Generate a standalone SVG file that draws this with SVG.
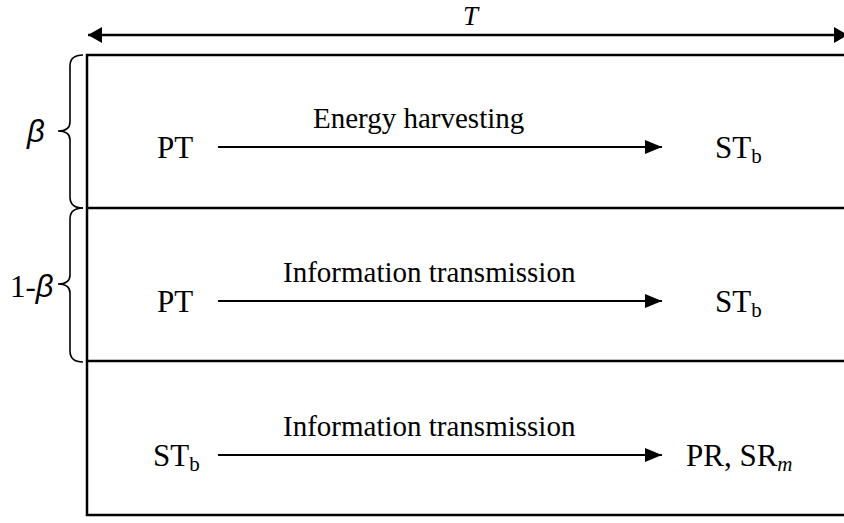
<svg xmlns="http://www.w3.org/2000/svg" width="844" height="523" viewBox="0 0 844 523">
<defs>
<style>
.t{font-family:"Liberation Serif","Times New Roman",serif;font-size:31px;fill:#000}
.lab{font-family:"Liberation Serif","Times New Roman",serif;font-size:29px;fill:#000}
.sub{font-size:21px}
.g{font-family:"Liberation Sans",Arial,sans-serif;font-style:italic;font-size:31px;fill:#000}
.ln{stroke:#000;stroke-width:2.5;fill:none}
.ar{stroke:#000;stroke-width:2;fill:none;marker-end:url(#ah)}
.br{stroke:#000;stroke-width:1.6;fill:none}
</style>
<marker id="ah" viewBox="0 0 17 14" refX="17" refY="7" markerWidth="17" markerHeight="14" markerUnits="userSpaceOnUse" orient="auto">
<path d="M0,0 L17,7 L0,14 Z" fill="#000"/>
</marker>
<marker id="ah2" viewBox="0 0 14 16" refX="14" refY="8" markerWidth="14" markerHeight="16" markerUnits="userSpaceOnUse" orient="auto-start-reverse">
<path d="M0,0 L14,8 L0,16 Z" fill="#000"/>
</marker>
</defs>
<g id="period">
<text x="463" y="25" font-family="Liberation Serif, Times New Roman, serif" font-size="27" font-style="italic" fill="#000">T</text>
</g>
<g id="frame">
<rect class="ln" x="87" y="55" width="800" height="460"/>
<line class="ln" x1="87" y1="208" x2="844" y2="208"/>
<line class="ln" x1="87" y1="361" x2="844" y2="361"/>
</g>
<g id="braces">
<path class="br" d="M83,55 Q70,55 70,66 L70,122 Q70,131 58,131 Q70,131 70,140 L70,197 Q70,208 83,208"/>
<path class="br" d="M83,208 Q70,208 70,219 L70,275 Q70,284 58,284 Q70,284 70,293 L70,351 Q70,362 83,362"/>
<text class="g" x="27" y="142">β</text>
<text x="10" y="297"><tspan class="t">1-</tspan><tspan class="g">β</tspan></text>
</g>
<g id="row1">
<text class="t" x="157" y="158">PT</text>
<text class="t" x="715" y="158">ST<tspan class="sub" dy="5">b</tspan></text>
<text class="lab" x="313" y="128">Energy harvesting</text>
</g>
<g id="row2">
<text class="t" x="157" y="312">PT</text>
<text class="t" x="715" y="312">ST<tspan class="sub" dy="5">b</tspan></text>
<text class="lab" x="283" y="282">Information transmission</text>
</g>
<g id="row3">
<text class="t" x="153" y="466">ST<tspan class="sub" dy="5">b</tspan></text>
<text class="t" x="686" y="466">PR, SR<tspan class="sub" dy="5" font-style="italic">m</tspan></text>
<text class="lab" x="283" y="436">Information transmission</text>
</g>
<g id="connectors">
<line x1="88" y1="35" x2="848" y2="35" stroke="#000" stroke-width="2.5" marker-start="url(#ah2)" marker-end="url(#ah2)"/>
<line class="ar" x1="218" y1="147" x2="662" y2="147"/>
<line class="ar" x1="218" y1="301" x2="662" y2="301"/>
<line class="ar" x1="218" y1="455" x2="662" y2="455"/>
</g>
</svg>
